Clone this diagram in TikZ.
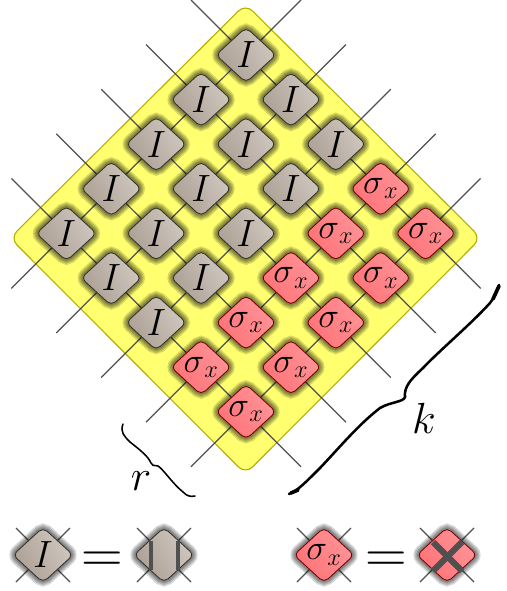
\documentclass[tikz,border=0pt]{standalone}
\usepackage{fix-cm}
\usetikzlibrary{shapes.geometric,backgrounds}
\DeclareMathSizes{24.88}{24.88}{17.28}{14.4}
\definecolor{sheet}{HTML}{FFFF70}
\definecolor{sheetline}{HTML}{B5B000}
\definecolor{greyhi}{HTML}{D0C8C0}
\definecolor{greylo}{HTML}{AC9F94}
\definecolor{redhi}{HTML}{FF9498}
\definecolor{redlo}{HTML}{FF7276}
\definecolor{wire}{HTML}{505050}
\newcommand{\sigx}{$\sigma_{\mkern1mu x}$}
\tikzset{
  halo/.style={preaction={draw=black,line width=#1,draw opacity=.15,fill opacity=0}},
  tile/.style={diamond,minimum width=43pt,minimum height=39.5pt,inner sep=0pt,rounded corners=4pt,
    halo=8.5pt,halo=6.5pt,halo=4.6pt,halo=2.8pt,font=\Huge},
  graytile/.style={tile,draw=black!70!greylo,line width=.6pt,shading=axis,
    left color=greylo,right color=greyhi,shading angle=120},
  redtile/.style={tile,draw=red!45!black,line width=.6pt,shading=axis,
    left color=redlo,right color=redhi,shading angle=120},
  leg/.style={draw=wire,line width=.85pt},
  bar/.style={draw=wire,line width=3.2pt},
  bigmath/.style={font=\fontsize{31}{33}\selectfont},
  bigeq/.style={font=\fontsize{41}{43}\selectfont},
  bigI/.style={font=\fontsize{27}{29}\selectfont},
}
\begin{document}
\begin{tikzpicture}[x=0.025cm,y=-0.025cm]
\useasboundingbox (0,0) rectangle (506,591);

% tiles
\foreach \a in {0,1,2} \foreach \b in {0,...,4} {
  \node[graytile,bigI] (n\a\b) at ({246+(\a-\b)*44.9},{55+(\a+\b)*44.6}) {$I$};
}
\foreach \a in {3,4} \foreach \b in {0,...,4} {
  \node[redtile] (n\a\b) at ({246+(\a-\b)*44.9},{55+(\a+\b)*44.6}) {\sigx};
}

% free wire ends
\foreach \a in {0,...,4} {
  \coordinate (up\a) at ({246+\a*44.9+55},{55+\a*44.6-55});
  \coordinate (ul\a) at ({246-\a*44.9-55},{55+\a*44.6-55});
  \coordinate (dn\a) at ({246+(\a-4)*44.9-55},{55+(\a+4)*44.6+55});
  \coordinate (dr\a) at ({246+(4-\a)*44.9+55},{55+(\a+4)*44.6+55});
}

% legend
\node[graytile,bigI] (ita) at (43,555) {$I$};
\node[graytile] (itb) at (164,555) {};
\node[redtile] (sta) at (324,555) {\sigx};
\node[redtile] (stb) at (447,555) {};
\foreach \c in {ita,itb,sta,stb} {
  \coordinate (\c nw) at ([shift={(-27,-27)}]\c.center);
  \coordinate (\c ne) at ([shift={(27,-27)}]\c.center);
  \coordinate (\c sw) at ([shift={(-27,27)}]\c.center);
  \coordinate (\c se) at ([shift={(27,27)}]\c.center);
}
\draw[bar] (151,541) -- (151,570);
\draw[bar] (178,541) -- (178,570);
\draw[draw=wire,line width=4.3pt] (433,542) -- (462,571);
\draw[draw=wire,line width=4.3pt] (462,542) -- (433,571);
\node[bigeq] (eqa) at (102,562) {$=$};
\node[bigeq] (eqb) at (386,562) {$=$};

% sheet and wires go behind the tiles
\begin{scope}[on background layer]
\fill[sheet,draw=sheetline,line width=.8pt,rounded corners=7pt] (245.5,4) -- (481,238) -- (245.5,474) -- (10,238) -- cycle;
\foreach \a in {0,...,4} {
  \draw[leg] (ul\a) -- (n0\a);
  \draw[leg] (n0\a) -- (n1\a);
  \draw[leg] (n1\a) -- (n2\a);
  \draw[leg] (n2\a) -- (n3\a);
  \draw[leg] (n3\a) -- (n4\a);
  \draw[leg] (n4\a) -- (dr\a);
  \draw[leg] (up\a) -- (n\a0);
  \draw[leg] (n\a0) -- (n\a1);
  \draw[leg] (n\a1) -- (n\a2);
  \draw[leg] (n\a2) -- (n\a3);
  \draw[leg] (n\a3) -- (n\a4);
  \draw[leg] (n\a4) -- (dn\a);
}
\foreach \c in {ita,itb,sta,stb} {
  \draw[leg] (\c nw) -- (\c);
  \draw[leg] (\c ne) -- (\c);
  \draw[leg] (\c sw) -- (\c);
  \draw[leg] (\c se) -- (\c);
}
\end{scope}

% braces
\draw[line width=1.1pt,line cap=round] (123,424) .. controls (120,432) and (124,436) .. (130,442)
  .. controls (140,450) and (148,456) .. (151,463) .. controls (152,466) and (153,465) .. (158,466)
  .. controls (164,470) and (172,483) .. (183,492) .. controls (187,496) and (190,497) .. (195,496);
\draw[line width=1.8pt,line cap=round] (289,494) .. controls (297,491) and (304,484) .. (320,468)
  .. controls (340,447) and (358,425) .. (380,408) .. controls (390,402) and (404,402) .. (405,397)
  .. controls (404,387) and (410,380) .. (423,368) .. controls (440,350) and (470,325) .. (490,303)
  .. controls (495,296) and (497,292) .. (499,285);
\draw[line width=2.6pt,line cap=round] (291,493) -- (298,490);
\draw[line width=2.6pt,line cap=round] (493,299) -- (499,286);
\node[bigmath] (rlab) at (141,481) {$r$};
\node[bigmath] (klab) at (424,418) {$k$};
\end{tikzpicture}
\end{document}
